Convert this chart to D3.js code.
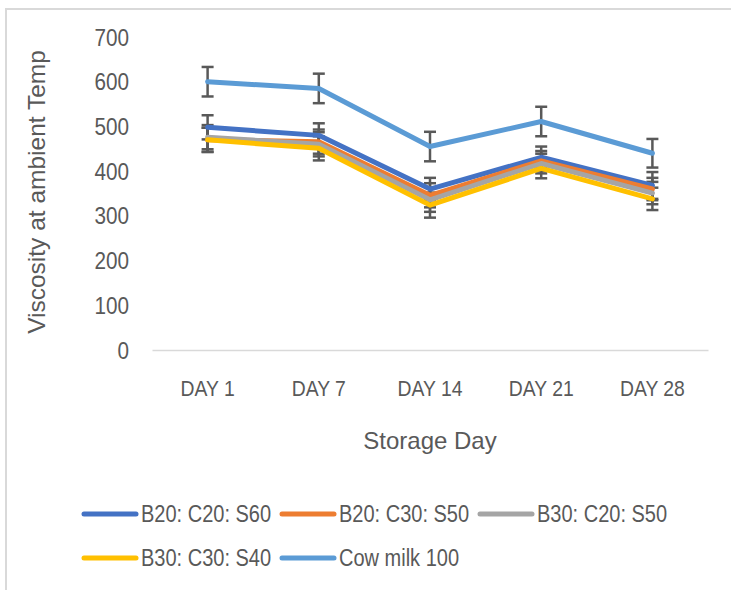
<!DOCTYPE html>
<html>
<head>
<meta charset="utf-8">
<script src="https://cdn.jsdelivr.net/npm/d3@7"></script>
<style>
  body { margin: 0; background: #fff; }
  text { font-family: "Liberation Sans Narrow", "Liberation Sans", Arial, sans-serif; fill: #595959; }
</style>
</head>
<body>
<svg id="chart" width="731" height="590"></svg>
<script>
var days = ["DAY 1", "DAY 7", "DAY 14", "DAY 21", "DAY 28"];
var seriesNames = ["B20: C20: S60", "B20: C30: S50", "B30: C20: S50", "B30: C30: S40", "Cow milk 100"];
var colors = ["#4472C4", "#ED7D31", "#A5A5A5", "#FFC000", "#5B9BD5"];
var b20c20s60 = [498, 480, 360, 431, 368];
var b20c30s50 = [470, 466, 346, 423, 360];
var b30c20s50 = [476, 460, 336, 417, 351];
var b30c30s40 = [470, 451, 324, 406, 338];
var cowMilk = [600, 585, 455, 511, 440];
var errB20c20s60 = [27, 27, 25, 24, 30];
var errB20c30s50 = [27, 27, 27, 22, 25];
var errB30c20s50 = [27, 27, 27, 22, 25];
var errB30c30s40 = [27, 27, 28, 22, 25];
var errCow = [33, 33, 33, 33, 32];
var yTicks = [0, 100, 200, 300, 400, 500, 600, 700];

var values = [b20c20s60, b20c30s50, b30c20s50, b30c30s40, cowMilk];
var errors = [errB20c20s60, errB20c30s50, errB30c20s50, errB30c30s40, errCow];

var svg = d3.select("#chart");

// chart area border
svg.append("rect")
    .attr("x", 6).attr("y", 9)
    .attr("width", 740).attr("height", 600)
    .attr("fill", "none")
    .attr("stroke", "#d9d9d9")
    .attr("stroke-width", 2);

var x = d3.scaleBand().domain(days).range([152, 708]);
var y = d3.scaleLinear().domain([0, 700]).range([350, 37]);

// y tick labels (squeezed a bit to look like the narrow office font)
svg.append("g")
    .attr("transform", "translate(129,0)")
    .call(d3.axisLeft(y).tickValues(yTicks).tickSize(0).tickPadding(0))
    .call(function (g) { g.select(".domain").remove(); })
    .selectAll("text")
    .style("font-size", "23px")
    .attr("fill", "#595959")
    .attr("x", 0)
    .attr("dy", "0.35em")
    .attr("transform", "scale(0.9,1)");

// x axis
var xAxis = svg.append("g")
    .attr("transform", "translate(0,350)")
    .call(d3.axisBottom(x).tickSize(0).tickPadding(30));
xAxis.select(".domain").attr("stroke", "#d9d9d9").attr("stroke-width", 1.5);
xAxis.selectAll("text")
    .style("font-size", "22px")
    .attr("fill", "#595959")
    .attr("transform", "scale(0.88,1)");

// axis titles
svg.append("text")
    .attr("transform", "translate(36,192) rotate(-90)")
    .attr("text-anchor", "middle")
    .attr("dy", "0.35em")
    .style("font-size", "24.5px")
    .text("Viscosity at ambient Temp");

svg.append("text")
    .attr("x", 430).attr("y", 441)
    .attr("text-anchor", "middle")
    .attr("dy", "0.35em")
    .style("font-size", "24px")
    .text("Storage Day");

var cx = function (i) { return x(days[i]) + x.bandwidth() / 2; };

// error bars
values.forEach(function (vals, s) {
    var g = svg.append("g").attr("stroke", "#595959").attr("stroke-width", 2.5);
    vals.forEach(function (v, i) {
        var e = errors[s][i];
        g.append("line").attr("x1", cx(i)).attr("x2", cx(i)).attr("y1", y(v - e)).attr("y2", y(v + e));
        g.append("line").attr("x1", cx(i) - 6).attr("x2", cx(i) + 6).attr("y1", y(v - e)).attr("y2", y(v - e));
        g.append("line").attr("x1", cx(i) - 6).attr("x2", cx(i) + 6).attr("y1", y(v + e)).attr("y2", y(v + e));
    });
});

// lines
var line = d3.line()
    .x(function (d, i) { return cx(i); })
    .y(function (d) { return y(d); });

values.forEach(function (vals, s) {
    svg.append("path")
        .datum(vals)
        .attr("d", line)
        .attr("fill", "none")
        .attr("stroke", colors[s])
        .attr("stroke-width", 5)
        .attr("stroke-linejoin", "round")
        .attr("stroke-linecap", "round");
});

// legend
var legend = svg.append("g");
seriesNames.forEach(function (name, i) {
    var lx = 84 + (i % 3) * 198;
    var ly = 514 + Math.floor(i / 3) * 44;
    legend.append("line")
        .attr("x1", lx).attr("x2", lx + 52)
        .attr("y1", ly).attr("y2", ly)
        .attr("stroke", colors[i])
        .attr("stroke-width", 5)
        .attr("stroke-linecap", "round");
    legend.append("g")
        .attr("transform", "translate(" + (lx + 57) + "," + ly + ")")
        .append("text")
        .attr("dy", "0.35em")
        .attr("transform", "scale(0.87,1)")
        .style("font-size", "23px")
        .text(name);
});
</script>
</body>
</html>
